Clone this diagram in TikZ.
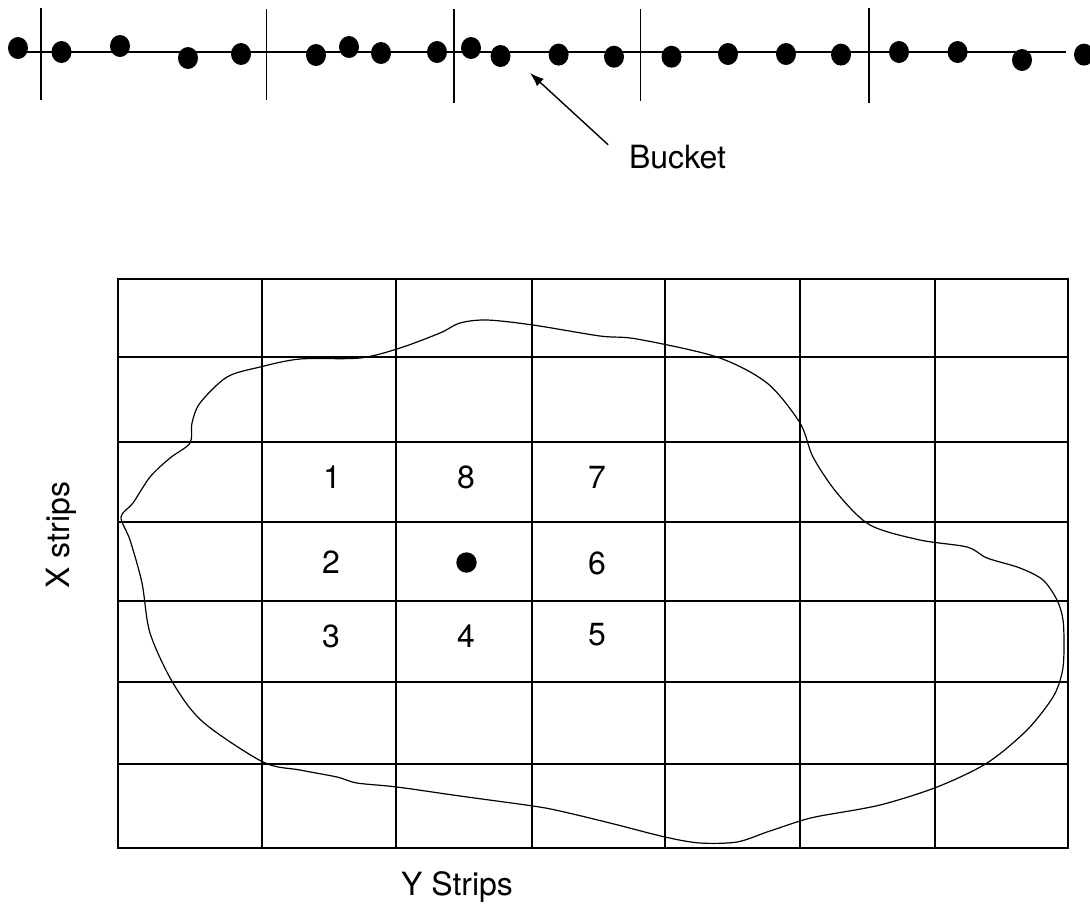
\documentclass[tikz,border=0pt]{standalone}
\usepackage{fontspec}
\setmainfont{TeX Gyre Heros}
\usetikzlibrary{arrows.meta}

\begin{document}
\begin{tikzpicture}[lbl/.style={inner sep=0pt, font=\fontsize{16}{19}\selectfont}, pt/.style={fill=black}, x=0.5pt, y=-0.5pt,
			>={Latex[length=7pt,width=5pt]},   %arrow tips
			line width=0.8pt]
			\useasboundingbox (0,0) rectangle (1090,905);
			%Bucket line
			\draw[line width=0.9pt] (18,52) -- (1066,52);
			\foreach \x/\a/\b in {40.7/8/100, 266.6/9/100, 454/9/103, 640.6/9/101, 869/8/103} \draw (\x,\a) -- (\x,\b);
			% points on the line
			\foreach \x/\y in {18/48, 61.5/52, 120/46, 188/58, 241/54, 316/55, 349/47, 381/53, 437/52, 471/48, 500.5/56,
				558.6/54.6, 614/56.7, 671.5/56.7, 728/54, 786/54, 841/54.6, 899/52, 957.6/52, 1022/60, 1084/54.6}
				\fill[pt] (\x,\y) ellipse [x radius=5pt, y radius=5.5pt];
			% label with arrow
			\node[lbl] (bucket) at (677.5,157.5) {Bucket};
			\coordinate (btip) at (530,73);
			\draw[->, line width=0.7pt] ([xshift=-10pt]bucket.north west) -- (btip);
			%Raster
			\draw (118,279) rectangle (1068,848);
			\foreach \x in {262,396,532,665,800,935} \draw (\x,279) -- (\x,848);
			\foreach \y in {357,442,522,601,682,764} \draw (118,\y) -- (1068,\y);
			% region outline
			\draw[line width=0.6pt] plot[smooth cycle, tension=0.5] coordinates {
				(121,517) (133,503) (150,477) (170,458) (190,443) (192,423) (200,403) (227,377) (260,367) (300,359)
				(360,358) (400,348) (440,333) (460,323) (487,320) (533,325) (600,336) (637,339) (717,357) (767,383)
				(800,423) (813,457) (837,493) (870,525) (920,540) (967,547) (987,558) (1020,568) (1043,580) (1057,600)
				(1063,620) (1064,650) (1062,673) (1053,697) (1027,730) (987,763) (937,787) (880,805) (820,816) (800,821)
				(767,832) (737,842) (700,843) (665,837) (610,823) (560,811) (533,806) (460,796) (397,787) (357,783)
				(337,777) (300,770) (263,762) (203,722) (173,683) (150,633) (142,583) (130,540)};
			% neighbour numbers
			\foreach \n/\x/\y in {1/332/477, 8/466/477, 7/597/477, 2/331/562, 6/597/563, 3/331/636, 4/466/636, 5/597/635}
				\node[lbl] (n\n) at (\x,\y) {\n};
			\node[pt, circle, inner sep=0pt, minimum size=10.2pt] (ctr) at (466.5,562.5) {};
			% axis texts
			\node[lbl, rotate=90, anchor=base] (xstrips) at (69,535) {X strips};
			\node[lbl, anchor=base] (ystrips) at (457,895) {Y Strips};
		\end{tikzpicture}
\end{document}
